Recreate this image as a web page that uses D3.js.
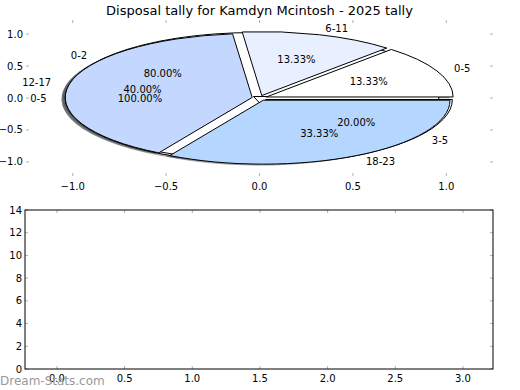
<!DOCTYPE html>
<html>
<head>
<meta charset="utf-8">
<script src="https://cdn.jsdelivr.net/npm/d3@7"></script>
<style>
  body { margin: 0; background: #fff; }
  text { font-family: "DejaVu Sans", sans-serif; }
</style>
</head>
<body>
<div id="chart"></div>
<script>
// chart data (counts per age band, three pies stacked on the same axes)
const title = "Disposal tally for Kamdyn Mcintosh - 2025 tally";
const pieA_labels = ["0-5", "6-11", "12-17", "18-23"];
const pieA_values = [2, 2, 6, 5];
const pieA_colors = ["#ffffff", "#e8f0ff", "#c4d8ff", "#b5d6ff"];
const pieB_labels = ["0-2", "3-5"];
const pieB_values = [4, 1];
const pieC_labels = ["0-5"];
const pieC_values = [1];
const topXTicks = [-1.0, -0.5, 0.0, 0.5, 1.0];
const topYTicks = [1.0, 0.5, 0.0, -0.5, -1.0];
const botXTicks = [0.0, 0.5, 1.0, 1.5, 2.0, 2.5, 3.0];
const botYTicks = [0, 2, 4, 6, 8, 10, 12, 14];

const W = 520, H = 390;
const explode = 0.04;
const svg = d3.select("#chart").append("svg")
    .attr("width", W).attr("height", H);

const fmtTick = d => d3.format(".1f")(d).replace("-", "\u2212");

// ---------- top axes (pie) ----------
const pieBox = {left: 26, right: 493, top: 20, bottom: 176};
const x1 = d3.scaleLinear().domain([-1.25, 1.25]).range([pieBox.left, pieBox.right]);
const y1 = d3.scaleLinear().domain([-1.22, 1.22]).range([pieBox.bottom, pieBox.top]);
const sx = x1(1) - x1(0), sy = y1(0) - y1(1);

svg.append("text")
    .attr("x", (pieBox.left + pieBox.right) / 2).attr("y", 15)
    .attr("text-anchor", "middle").style("font-size", "13px")
    .text(title);

// gray inward tick marks on all four sides, no spines
const tickCol = "#b0b0b0";
topXTicks.forEach(t => {
    svg.append("line").attr("x1", x1(t)).attr("x2", x1(t)).attr("y1", pieBox.top).attr("y2", pieBox.top + 3).attr("stroke", tickCol);
    svg.append("line").attr("x1", x1(t)).attr("x2", x1(t)).attr("y1", pieBox.bottom).attr("y2", pieBox.bottom - 3).attr("stroke", tickCol);
    svg.append("text").attr("x", x1(t)).attr("y", pieBox.bottom + 14)
        .attr("text-anchor", "middle").style("font-size", "10px").text(fmtTick(t));
});
topYTicks.forEach(t => {
    svg.append("line").attr("x1", pieBox.left).attr("x2", pieBox.left + 3).attr("y1", y1(t)).attr("y2", y1(t)).attr("stroke", tickCol);
    svg.append("line").attr("x1", pieBox.right).attr("x2", pieBox.right - 3).attr("y1", y1(t)).attr("y2", y1(t)).attr("stroke", tickCol);
    svg.append("text").attr("x", pieBox.left - 3).attr("y", y1(t)).attr("dy", "0.35em")
        .attr("text-anchor", "end").style("font-size", "10px").text(fmtTick(t));
});

// pies: angles counter-clockwise from +x, drawn as unit arcs then scaled
const pie = d3.pie().sort(null).startAngle(Math.PI / 2).endAngle(Math.PI / 2 - 2 * Math.PI);
const arc = d3.arc().innerRadius(0).outerRadius(1);

function wedges(values, labels, colors) {
    const total = d3.sum(values);
    return pie(values).map((d, i) => {
        const mid = Math.PI / 2 - (d.startAngle + d.endAngle) / 2; // math angle
        return {
            d: d, label: labels[i], color: colors ? colors[i] : "#ffffff",
            pct: d3.format(".2f")(values[i] / total * 100) + "%",
            mid: mid,
            ox: explode * Math.cos(mid), oy: explode * Math.sin(mid)
        };
    });
}

const pies = [
    wedges(pieC_values, pieC_labels, null),
    wedges(pieB_values, pieB_labels, null),
    wedges(pieA_values, pieA_labels, pieA_colors)
];

const gPie = svg.append("g");
// shadows first (drawn beneath every wedge)
pies.forEach(ws => ws.forEach(w => {
    const c = d3.color(w.color);
    gPie.append("path")
        .attr("d", arc(w.d))
        .attr("transform", `translate(${x1(w.ox - 0.02)},${y1(w.oy - 0.02)}) scale(${sx},${sy})`)
        .attr("fill", d3.rgb(c.r * 0.3, c.g * 0.3, c.b * 0.3))
        .attr("fill-opacity", 0.5);
}));
pies.forEach(ws => ws.forEach(w => {
    gPie.append("path")
        .attr("d", arc(w.d))
        .attr("transform", `translate(${x1(w.ox)},${y1(w.oy)}) scale(${sx},${sy})`)
        .attr("fill", w.color)
        .attr("stroke", "#000")
        .attr("stroke-width", 1)
        .attr("vector-effect", "non-scaling-stroke");
}));
// labels and percentages on top
pies.forEach(ws => ws.forEach(w => {
    const lx = w.ox + 1.1 * Math.cos(w.mid), ly = w.oy + 1.1 * Math.sin(w.mid);
    svg.append("text").attr("x", x1(lx)).attr("y", y1(ly)).attr("dy", "0.35em")
        .attr("text-anchor", lx > 0 ? "start" : "end")
        .style("font-size", "10px").text(w.label);
    const px = w.ox + 0.6 * Math.cos(w.mid), py = w.oy + 0.6 * Math.sin(w.mid);
    svg.append("text").attr("x", x1(px)).attr("y", y1(py)).attr("dy", "0.35em")
        .attr("text-anchor", "middle")
        .style("font-size", "10px").text(w.pct);
}));

// ---------- bottom axes (empty) ----------
const botBox = {left: 25, right: 493, top: 210, bottom: 369};
const x2 = d3.scaleLinear().domain([-0.236, 3.222]).range([botBox.left, botBox.right]);
const y2 = d3.scaleLinear().domain([0, 14]).range([botBox.bottom, botBox.top]);

botXTicks.forEach(t => {
    svg.append("line").attr("x1", x2(t)).attr("x2", x2(t)).attr("y1", botBox.top).attr("y2", botBox.top + 3).attr("stroke", tickCol);
    svg.append("line").attr("x1", x2(t)).attr("x2", x2(t)).attr("y1", botBox.bottom).attr("y2", botBox.bottom - 3).attr("stroke", tickCol);
    svg.append("text").attr("x", x2(t)).attr("y", botBox.bottom + 13)
        .attr("text-anchor", "middle").style("font-size", "10px").text(fmtTick(t));
});
botYTicks.forEach(t => {
    svg.append("line").attr("x1", botBox.left).attr("x2", botBox.left + 3).attr("y1", y2(t)).attr("y2", y2(t)).attr("stroke", tickCol);
    svg.append("line").attr("x1", botBox.right).attr("x2", botBox.right - 3).attr("y1", y2(t)).attr("y2", y2(t)).attr("stroke", tickCol);
    svg.append("text").attr("x", botBox.left - 3).attr("y", y2(t)).attr("dy", "0.35em")
        .attr("text-anchor", "end").style("font-size", "10px").text(t);
});
svg.append("rect")
    .attr("x", botBox.left).attr("y", botBox.top)
    .attr("width", botBox.right - botBox.left).attr("height", botBox.bottom - botBox.top)
    .attr("fill", "none").attr("stroke", "#000").attr("stroke-width", 1);

// watermark
svg.append("text").attr("x", 0).attr("y", 385)
    .style("font-size", "12px").style("fill", "#999")
    .text("Dream-Stats.com");
</script>
</body>
</html>
